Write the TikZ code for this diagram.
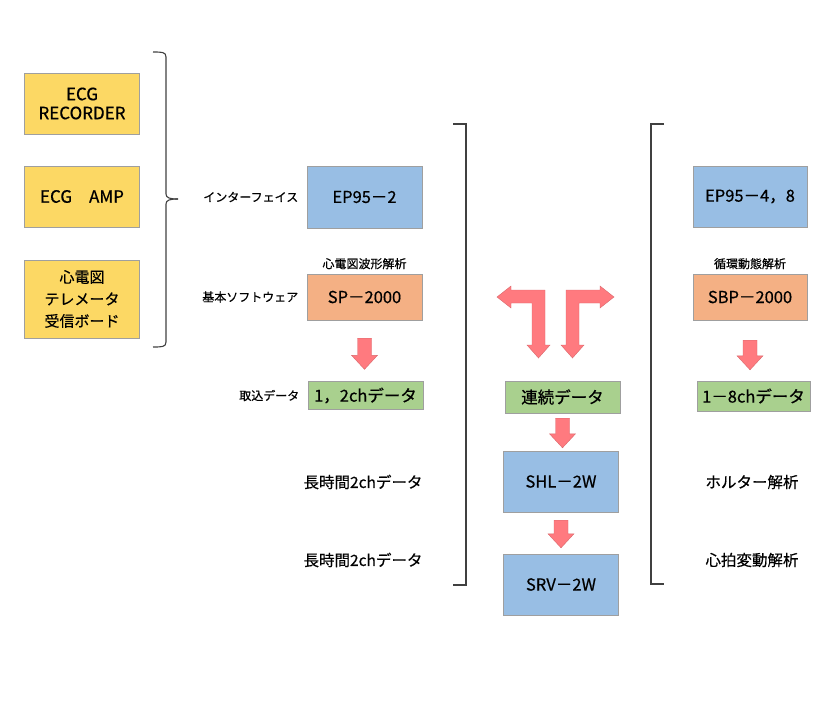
\documentclass[tikz,border=0pt]{standalone}
\usepackage{fontspec}
\setmainfont{Noto Sans CJK JP}[FakeBold=0.5]
\usetikzlibrary{calc,positioning}

\definecolor{boxyellow}{RGB}{252,216,100}
\definecolor{boxblue}{RGB}{152,190,228}
\definecolor{boxorange}{RGB}{244,176,132}
\definecolor{boxgreen}{RGB}{169,208,142}
\definecolor{arrowred}{RGB}{255,122,127}

\newcommand{\fatdown}[4]{%
  \coordinate (fa-t) at ($(#1.south)+(0,#3)$);
  \coordinate (fa-u) at (fa-t |- #2.north);
  \coordinate (fa-b) at ($(fa-u)+(0,-#4)$);
  \filldraw[fill=arrowred, draw=arrowred!85!black, line width=0.4pt]
    ($(fa-t)+(-7,0)$) -- ($(fa-t)+(7,0)$) -- ($(fa-b)+(7,-14)$) -- ($(fa-b)+(13,-14)$)
    -- (fa-b) -- ($(fa-b)+(-13,-14)$) -- ($(fa-b)+(-7,-14)$) -- cycle;}

\begin{document}
\begin{tikzpicture}[x=1pt, y=-1pt,
  every node/.style={font=\fontsize{12}{14}\selectfont},
  unitbox/.style={draw=gray!75, fill=#1, minimum width=115pt, inner sep=0pt, align=center, font=\fontsize{16.5}{19}\selectfont},
  longlabel/.style={font=\fontsize{15.5}{18}\selectfont},
  bracketline/.style={draw=black!75, line width=1.1pt}]
	\useasboundingbox (0,0) rectangle (831,720);
	\node[unitbox=boxyellow, minimum height=61pt, font=\fontsize{17}{19}\selectfont] (rec) at (82,103.5) {ECG\\RECORDER};
	\node[unitbox=boxyellow, minimum height=61pt, font=\fontsize{17}{19}\selectfont] (amp) at (82,196.5) {ECG　AMP};
	\node[unitbox=boxyellow, minimum height=78pt, font=\fontsize{15}{22}\selectfont] (tele) at (82,299) {心電図\\テレメータ\\受信ボード};
	\draw[bracketline] (153,52) .. controls (162,52) and (166,52) .. (166,57) -- (166,194) .. controls (166,198) and (170,199) .. (178,199);
	\draw[bracketline] (178,199) .. controls (170,199) and (166,200) .. (166,204) -- (166,342) .. controls (166,347) and (162,347) .. (153,347);

	\node[unitbox=boxblue, minimum height=62pt] (ep2) at (364.5,197) {EP95－2};
	\node[left=5pt of ep2] (iflabel) {インターフェイス};
	\node[unitbox=boxorange, minimum height=46pt] (sp) at (364.5,297) {SP－2000};
	\node[above=1pt of sp] (splabel) {心電図波形解析};
	\node[left=5pt of sp] (swlabel) {基本ソフトウェア};
	\node[unitbox=boxgreen, minimum height=28pt] (ch12) at (365.5,395.5) {1，2chデータ};
	\node[left=5pt of ch12] (inlabel) {取込データ};
	\node[longlabel] (long1) at (363,482) {長時間2chデータ};
	\node[longlabel] (long2) at (363,560) {長時間2chデータ};
	\draw[bracketline] (453,124) -- (466,124) -- (466,585) -- (453,585);

	\filldraw[fill=arrowred, draw=arrowred!85!black, line width=0.4pt] (497,297) -- (511,286) -- (511,290) -- (545,290) -- (545,345) -- (550,345) -- (538.5,358) -- (527,345) -- (532,345) -- (532,303) -- (511,303) -- (511,308) -- cycle;
	\filldraw[fill=arrowred, draw=arrowred!85!black, line width=0.4pt] (614,297) -- (600,286) -- (600,290) -- (566,290) -- (566,345) -- (561,345) -- (572.5,358) -- (584,345) -- (579,345) -- (579,303) -- (600,303) -- (600,308) -- cycle;
	\node[unitbox=boxgreen, minimum height=32pt] (cont) at (562.5,397) {連続データ};
	\node[unitbox=boxblue, minimum height=61pt] (shl) at (561,481.5) {SHL－2W};
	\node[unitbox=boxblue, minimum height=61pt] (srv) at (561,584.5) {SRV－2W};

	\draw[bracketline] (664,124) -- (651,124) -- (651,584) -- (664,584);
	\node[unitbox=boxblue, minimum height=61pt, minimum width=114pt] (ep48) at (750,196.5) {EP95－4，8};
	\node[unitbox=boxorange, minimum height=46pt, minimum width=114pt] (sbp) at (750,297) {SBP－2000};
	\node[above=1pt of sbp] (sbplabel) {循環動態解析};
	\node[unitbox=boxgreen, minimum height=30pt, minimum width=113pt] (ch18) at (753.5,396) {1－8chデータ};
	\node[longlabel] (holter) at (752,482) {ホルター解析};
	\node[longlabel] (hrv) at (752,560) {心拍変動解析};

	\fatdown{sp}{ch12}{18}{12}
	\fatdown{sbp}{ch18}{20}{11}
	\fatdown{cont}{shl}{5}{3}
	\fatdown{shl}{srv}{8}{6}
\end{tikzpicture}
\end{document}
